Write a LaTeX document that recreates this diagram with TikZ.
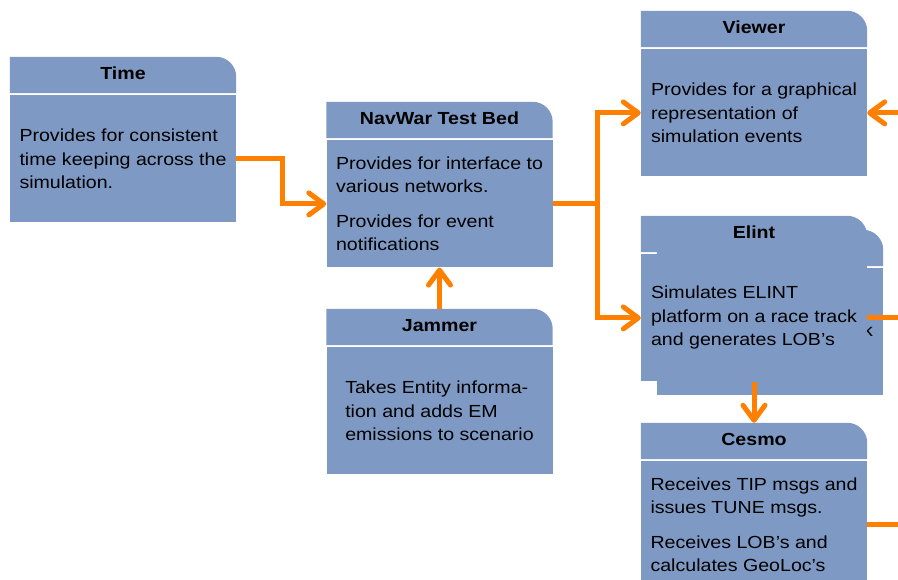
\documentclass[tikz,border=0pt]{standalone}
\usepackage{fontspec}
\setmainfont{Liberation Sans}[FakeStretch=1.12]
\usetikzlibrary{positioning}
\usetikzlibrary{arrows.meta,backgrounds}
\definecolor{unitblue}{RGB}{126,154,196}
\definecolor{linkorange}{RGB}{255,128,0}

\begin{document}
\begin{tikzpicture}[x=1pt,y=-1pt,
  unithead/.style={minimum width=226pt,minimum height=36pt,inner sep=0pt,text height=12.5pt,text depth=3pt,font=\fontsize{17.5pt}{21pt}\selectfont\bfseries},
  unitbody/.style={fill=unitblue,minimum width=226pt,minimum height=127pt,inner sep=0pt,align=left,font=\fontsize{17.5pt}{23.5pt}\selectfont},
  link/.style={draw=linkorange,line width=5pt,-{Straight Barb[length=15pt,width=22pt,round]}},
  stub/.style={draw=linkorange,line width=5pt}]
\useasboundingbox (0,0) rectangle (898,580);
\clip (0,0) rectangle (898,580);

% units
\node[unithead](timeH) at (123,75){Time};
\node[unitbody,below=2pt of timeH](time){Provides for consistent\\time keeping across the\\simulation.};

\node[unithead](navwarH) at (439.5,120){NavWar Test Bed};
\node[unitbody,below=2pt of navwarH](navwar){Provides for interface to\\various networks.\\[11pt]Provides for event\\notifications};

\node[unithead](jammerH) at (439.5,327){Jammer};
\node[unitbody,below=2pt of jammerH](jammer){Takes Entity informa-\\tion and adds EM\\emissions to scenario};

\node[unithead](viewerH) at (754,29){Viewer};
\node[unitbody,below=2pt of viewerH](viewer){Provides for a graphical\\representation of\\simulation events};

% stacked elint units
\node[unithead](elintBH) at (770,248){};
\node[unitbody,below=2pt of elintBH](elintB){Simulates ELINT\\platform on a race track\\and generates LOB’s};
\node[unithead](elintH) at (754,234){Elint};
\node[unitbody,below=2pt of elintH](elint){Simulates ELINT\\platform on a race track\\and generates LOB’s};

\node[unithead](cesmoH) at (754,441){Cesmo};
\node[unitbody,below=2pt of cesmoH](cesmo){Receives TIP msgs and\\issues TUNE msgs.\\[11pt]Receives LOB’s and\\calculates GeoLoc’s};

% header tabs
\begin{scope}[on background layer]
\foreach \u in {timeH,navwarH,jammerH,viewerH,elintBH,elintH,cesmoH}
  \fill[unitblue] (\u.south west) -- (\u.north west) -- ([xshift=-20pt]\u.north east) arc[start angle=90,end angle=0,radius=20pt] -- (\u.south east) -- cycle;
\end{scope}

% links
\coordinate (fork) at ([xshift=45pt]navwar.east);
\coordinate (rim) at (898,0);
\path[link] (time.east) -- ++(46,0) |- (navwar.west);
\path[link] (navwar.east) -- (fork) |- (viewer.west);
\path[link] (fork) |- (elint.west);
\path[link] (jammerH.north) -- (navwar.south);
\path[link] (elint.south) -- (cesmoH.north);
\path[link] (viewer.east -| rim) -- (viewer.east);
\path[stub] (elint.east) -- (elint.east -| rim);
\path[stub] (cesmo.east) -- (cesmo.east -| rim);
\end{tikzpicture}
\end{document}
